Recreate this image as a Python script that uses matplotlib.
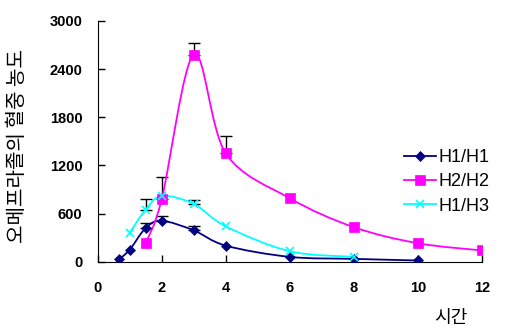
import matplotlib
matplotlib.use('Agg')
import matplotlib.pyplot as plt
from matplotlib.path import Path
from matplotlib.patches import PathPatch
import numpy as np

#------------------------------------------------------------------------------
# DATA (time in hours, plasma concentration)

t_h1h1 = [0.67, 1, 1.5, 2, 3, 4, 6, 8, 10]
c_h1h1 = [30, 150, 420, 510, 390, 200, 60, 35, 15]
e_h1h1 = [0, 0, 60, 60, 55, 0, 0, 0, 0]

t_h2h2 = [1.5, 2, 3, 4, 6, 8, 10, 12]
c_h2h2 = [230, 780, 2580, 1350, 790, 430, 230, 140]
e_h2h2 = [0, 280, 140, 220, 0, 0, 0, 0]

t_h1h3 = [1, 1.5, 2, 3, 4, 6, 8]
c_h1h3 = [360, 650, 820, 720, 440, 130, 60]
e_h1h3 = [0, 130, 0, 50, 0, 0, 0]

labels = ['H1/H1', 'H2/H2', 'H1/H3']
xticks = [0, 2, 4, 6, 8, 10, 12]
yticks = [0, 600, 1200, 1800, 2400, 3000]

#------------------------------------------------------------------------------
# smoothed line through the points (cubic bezier, catmull-rom style)
def smooth_path(x, y):
    p = np.column_stack([x, y]).astype(float)
    verts = [p[0]]
    codes = [Path.MOVETO]
    n = len(p)
    for i in range(n - 1):
        p0 = p[i - 1] if i > 0 else p[i]
        p3 = p[i + 2] if i + 2 < n else p[i + 1]
        c1 = p[i] + (p[i + 1] - p0) / 6.0
        c2 = p[i + 1] - (p3 - p[i]) / 6.0
        verts += [c1, c2, p[i + 1]]
        codes += [Path.CURVE4] * 3
    return Path(verts, codes)

fig = plt.figure(figsize=(5.23, 3.31), dpi=100)
ax = fig.add_axes([0.1868, 0.2094, 0.7348, 0.7272])

series = [
    (t_h1h1, c_h1h1, e_h1h1, '#000080', 'D', 5, labels[0]),
    (t_h2h2, c_h2h2, e_h2h2, '#FF00FF', 's', 7.5, labels[1]),
    (t_h1h3, c_h1h3, e_h1h3, '#00FFFF', 'x', 6, labels[2]),
]

for t, c, e, col, mk, ms, lab in series:
    t = np.array(t); c = np.array(c); e = np.array(e)
    has = e > 0
    ax.errorbar(t[has], c[has], yerr=[np.zeros(has.sum()), e[has]], fmt='none',
                ecolor='black', elinewidth=1, capsize=4, capthick=1, zorder=2)
    ax.add_patch(PathPatch(smooth_path(t, c), facecolor='none', edgecolor=col,
                           lw=1.3, zorder=3))
    ax.plot(t, c, linestyle='none', color=col, marker=mk, markersize=ms,
            markeredgewidth=1.2 if mk == 'x' else 0.5, zorder=4)

# legend entries with line + marker
handles = [plt.Line2D([], [], color=s[3], marker=s[4], markersize=s[5],
                      markeredgewidth=1.2 if s[4] == 'x' else 0.5, lw=1.3)
           for s in series]
leg = ax.legend(handles, labels, loc='upper left', bbox_to_anchor=(0.755, 0.535),
                frameon=False, handlelength=1.75, handletextpad=0.15,
                labelspacing=0.4, prop={'family': 'Liberation Sans', 'size': 13})

ax.set_xlim(0, 12)
ax.set_ylim(0, 3000)
ax.set_xticks(xticks)
ax.set_yticks(yticks)
ax.spines['top'].set_visible(False)
ax.spines['right'].set_visible(False)
ax.tick_params(direction='in', length=5, width=1, labelsize=10.5)
ax.tick_params(axis='x', pad=14)
ax.tick_params(axis='y', pad=11)
for lbl in ax.get_xticklabels() + ax.get_yticklabels():
    lbl.set_fontfamily('Liberation Sans')
    lbl.set_fontweight('bold')

fig.text(0.033, 0.56, '오메프라졸의 혈중 농도', rotation=90, ha='center', va='center',
         fontsize=14.5, family=['Noto Sans CJK KR', 'DejaVu Sans'])
fig.text(0.862, 0.04, '시간', ha='center', va='center', fontsize=13,
         family=['Noto Sans CJK KR', 'DejaVu Sans'])

fig.savefig('out.png', dpi=100)
